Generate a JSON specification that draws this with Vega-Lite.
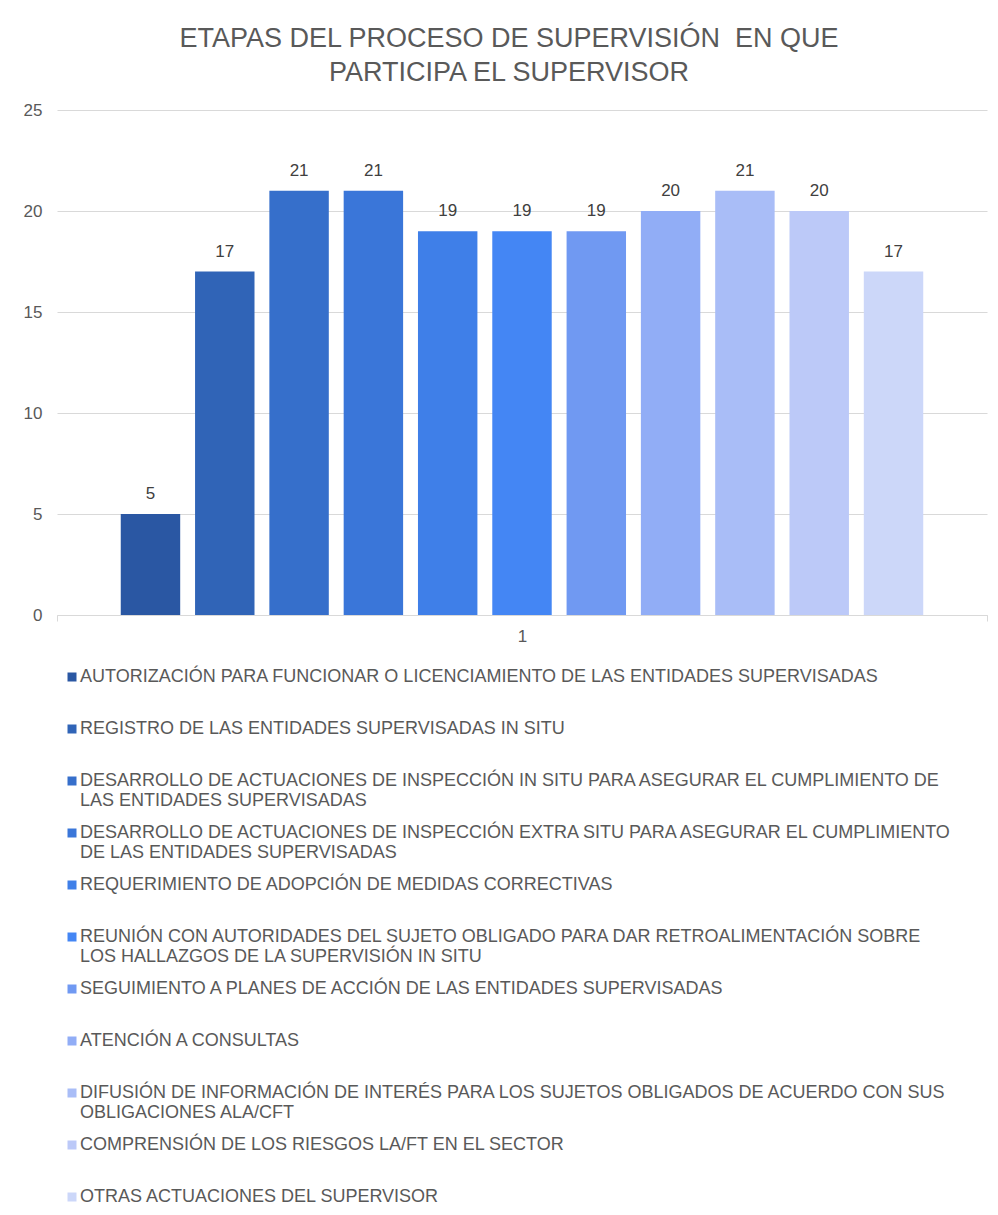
{
  "$schema": "https://vega.github.io/schema/vega-lite/v6.json",
  "background": "white",
  "padding": {"left": 23, "top": 25, "right": 11, "bottom": 10},
  "width": 930,
  "height": 505,
  "config": {"font": "Liberation Sans", "view": {"stroke": null}},
  "title": {
    "text": ["ETAPAS DEL PROCESO DE SUPERVISIÓN \u00a0EN QUE", "PARTICIPA EL SUPERVISOR"],
    "fontSize": 27,
    "fontWeight": "normal",
    "font": "Liberation Sans",
    "color": "#595959",
    "anchor": "middle",
    "dx": -13,
    "lineHeight": 34,
    "offset": 14
  },
  "data": {
    "values": [
      {"grupo": "1", "orden": 1, "valor": 5, "etapa": "AUTORIZACIÓN PARA FUNCIONAR O LICENCIAMIENTO DE LAS ENTIDADES SUPERVISADAS"},
      {"grupo": "1", "orden": 2, "valor": 17, "etapa": "REGISTRO DE LAS ENTIDADES SUPERVISADAS IN SITU"},
      {"grupo": "1", "orden": 3, "valor": 21, "etapa": "DESARROLLO DE ACTUACIONES DE INSPECCIÓN IN SITU PARA ASEGURAR EL CUMPLIMIENTO DE|LAS ENTIDADES SUPERVISADAS"},
      {"grupo": "1", "orden": 4, "valor": 21, "etapa": "DESARROLLO DE ACTUACIONES DE INSPECCIÓN EXTRA SITU PARA ASEGURAR EL CUMPLIMIENTO|DE LAS ENTIDADES SUPERVISADAS"},
      {"grupo": "1", "orden": 5, "valor": 19, "etapa": "REQUERIMIENTO DE ADOPCIÓN DE MEDIDAS CORRECTIVAS"},
      {"grupo": "1", "orden": 6, "valor": 19, "etapa": "REUNIÓN CON AUTORIDADES DEL SUJETO OBLIGADO PARA DAR RETROALIMENTACIÓN SOBRE|LOS HALLAZGOS DE LA SUPERVISIÓN IN SITU"},
      {"grupo": "1", "orden": 7, "valor": 19, "etapa": "SEGUIMIENTO A PLANES DE ACCIÓN DE LAS ENTIDADES SUPERVISADAS"},
      {"grupo": "1", "orden": 8, "valor": 20, "etapa": "ATENCIÓN A CONSULTAS"},
      {"grupo": "1", "orden": 9, "valor": 21, "etapa": "DIFUSIÓN DE INFORMACIÓN DE INTERÉS PARA LOS SUJETOS OBLIGADOS DE ACUERDO CON SUS|OBLIGACIONES ALA/CFT"},
      {"grupo": "1", "orden": 10, "valor": 20, "etapa": "COMPRENSIÓN DE LOS RIESGOS LA/FT EN EL SECTOR"},
      {"grupo": "1", "orden": 11, "valor": 17, "etapa": "OTRAS ACTUACIONES DEL SUPERVISOR"}
    ]
  },
  "encoding": {
    "x": {
      "field": "grupo",
      "type": "nominal",
      "scale": {"paddingInner": 0, "paddingOuter": 0},
      "axis": {
        "title": null,
        "labelAngle": 0,
        "labelFontSize": 17,
        "labelColor": "#595959",
        "labelPadding": 7,
        "domainColor": "#d9d9d9",
        "tickColor": "#d9d9d9",
        "tickBand": "extent",
        "tickSize": 6,
        "grid": false
      }
    },
    "xOffset": {
      "field": "orden",
      "type": "ordinal",
      "scale": {"paddingInner": 0.2, "paddingOuter": 0.858}
    },
    "y": {
      "field": "valor",
      "type": "quantitative",
      "scale": {"domain": [0, 25], "nice": false},
      "axis": {
        "title": null,
        "values": [0, 5, 10, 15, 20, 25],
        "labelFontSize": 17,
        "labelColor": "#595959",
        "labelPadding": 15,
        "ticks": false,
        "domain": false,
        "gridColor": "#d9d9d9"
      }
    }
  },
  "layer": [
    {
      "mark": {"type": "bar"},
      "encoding": {
        "color": {
          "field": "etapa",
          "type": "nominal",
          "scale": {
            "domain": [
              "AUTORIZACIÓN PARA FUNCIONAR O LICENCIAMIENTO DE LAS ENTIDADES SUPERVISADAS",
              "REGISTRO DE LAS ENTIDADES SUPERVISADAS IN SITU",
              "DESARROLLO DE ACTUACIONES DE INSPECCIÓN IN SITU PARA ASEGURAR EL CUMPLIMIENTO DE|LAS ENTIDADES SUPERVISADAS",
              "DESARROLLO DE ACTUACIONES DE INSPECCIÓN EXTRA SITU PARA ASEGURAR EL CUMPLIMIENTO|DE LAS ENTIDADES SUPERVISADAS",
              "REQUERIMIENTO DE ADOPCIÓN DE MEDIDAS CORRECTIVAS",
              "REUNIÓN CON AUTORIDADES DEL SUJETO OBLIGADO PARA DAR RETROALIMENTACIÓN SOBRE|LOS HALLAZGOS DE LA SUPERVISIÓN IN SITU",
              "SEGUIMIENTO A PLANES DE ACCIÓN DE LAS ENTIDADES SUPERVISADAS",
              "ATENCIÓN A CONSULTAS",
              "DIFUSIÓN DE INFORMACIÓN DE INTERÉS PARA LOS SUJETOS OBLIGADOS DE ACUERDO CON SUS|OBLIGACIONES ALA/CFT",
              "COMPRENSIÓN DE LOS RIESGOS LA/FT EN EL SECTOR",
              "OTRAS ACTUACIONES DEL SUPERVISOR"
            ],
            "range": ["#2a57a3", "#3064b7", "#366fcb", "#3a76d9", "#3f7fe8", "#4486f4", "#7099f2", "#91adf6", "#a9bdf7", "#bcc9f8", "#ccd7f9"]
          },
          "legend": {
            "orient": "none",
            "legendX": 6,
            "legendY": 558,
            "direction": "vertical",
            "columns": 1,
            "title": null,
            "symbolType": "square",
            "symbolSize": 81,
            "symbolStrokeWidth": 0,
            "symbolOpacity": 1,
            "labelFontSize": 18,
            "labelColor": "#595959",
            "labelLimit": 950,
            "labelOffset": 0,
            "labelBaseline": "top",
            "rowPadding": 14,
            "labelExpr": "indexof(datum.label, '|') >= 0 ? split(datum.label, '|') : [datum.label, ' ']",
            "encode": {"labels": {"update": {"dy": {"value": -9}, "dx": {"value": -1}, "lineHeight": {"value": 20}}}}
          }
        }
      }
    },
    {
      "mark": {"type": "text", "dy": -20, "fontSize": 17, "color": "#404040"},
      "encoding": {"text": {"field": "valor", "type": "quantitative"}}
    }
  ]
}
